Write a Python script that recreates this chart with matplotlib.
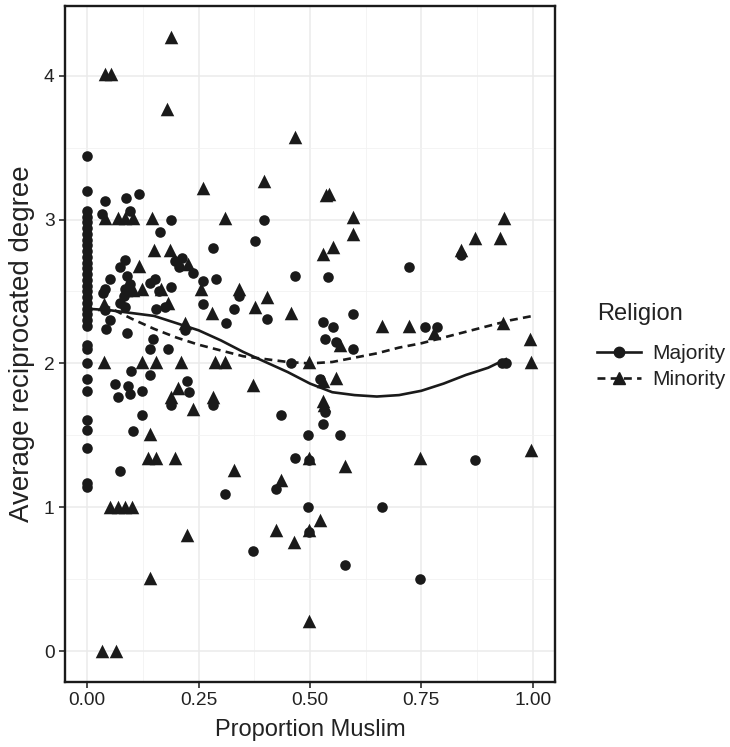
import matplotlib
matplotlib.use('Agg')
import matplotlib.pyplot as plt
from matplotlib.lines import Line2D
from matplotlib.ticker import MultipleLocator
import numpy as np

plt.rcParams['font.family'] = ['Liberation Sans', 'DejaVu Sans']

# 多数派（圆点）：比例为 0 的那一列
maj_zero_y = [3.44, 3.20, 3.06, 3.02, 2.98, 2.94, 2.90, 2.86, 2.82, 2.78, 2.74, 2.70,
              2.66, 2.62, 2.58, 2.54, 2.50, 2.46, 2.42, 2.38, 2.34, 2.30, 2.26,
              2.13, 2.10, 2.00, 1.89, 1.81, 1.61, 1.54, 1.41, 1.17, 1.14]

# 多数派（圆点）：其余
maj_x = [0.040, 0.088, 0.117, 0.032, 0.096, 0.187, 0.396, 0.163, 0.376, 0.282,
         0.085, 0.074, 0.212, 0.197, 0.206, 0.238, 0.050, 0.089, 0.040, 0.036,
         0.152, 0.140, 0.160, 0.187, 0.260, 0.289, 0.466, 0.540, 0.722, 0.839,
         0.096, 0.085, 0.082, 0.074, 0.085, 0.340, 0.259, 0.175, 0.154, 0.330,
         0.404, 0.311, 0.040, 0.050, 0.042, 0.089, 0.219, 0.147, 0.140, 0.182,
         0.529, 0.552, 0.596, 0.534, 0.559, 0.596, 0.759, 0.785, 0.457, 0.930,
         0.940, 0.098, 0.140, 0.063, 0.068, 0.092, 0.096, 0.122, 0.223, 0.229,
         0.187, 0.282, 0.436, 0.122, 0.103, 0.522, 0.534, 0.529, 0.496, 0.567,
         0.467, 0.497, 0.871, 0.073, 0.424, 0.309, 0.496, 0.662, 0.497, 0.372,
         0.579, 0.746]
maj_y = [3.13, 3.15, 3.18, 3.04, 3.06, 3.00, 3.00, 2.91, 2.85, 2.80,
         2.72, 2.67, 2.73, 2.71, 2.67, 2.63, 2.59, 2.61, 2.52, 2.49,
         2.59, 2.56, 2.50, 2.53, 2.57, 2.59, 2.61, 2.60, 2.67, 2.75,
         2.55, 2.52, 2.47, 2.42, 2.39, 2.47, 2.41, 2.39, 2.38, 2.38,
         2.31, 2.28, 2.37, 2.30, 2.24, 2.21, 2.23, 2.17, 2.10, 2.10,
         2.29, 2.25, 2.34, 2.17, 2.15, 2.10, 2.25, 2.25, 2.00, 2.00,
         2.00, 1.95, 1.92, 1.86, 1.77, 1.84, 1.79, 1.81, 1.88, 1.80,
         1.71, 1.71, 1.64, 1.64, 1.53, 1.89, 1.66, 1.58, 1.50, 1.50,
         1.34, 1.33, 1.33, 1.25, 1.13, 1.09, 1.00, 1.00, 0.83, 0.70,
         0.60, 0.50]

# 少数派（三角）
min_x = [0.187, 0.040, 0.053, 0.178, 0.467, 0.259, 0.396, 0.537, 0.542, 0.596,
         0.596, 0.552, 0.529, 0.040, 0.070, 0.084, 0.103, 0.146, 0.309, 0.936,
         0.150, 0.186, 0.839, 0.871, 0.927, 0.117, 0.226, 0.092, 0.088, 0.103,
         0.122, 0.166, 0.256, 0.340, 0.404, 0.182, 0.281, 0.376, 0.458, 0.219,
         0.037, 0.662, 0.722, 0.779, 0.933, 0.994, 0.567, 0.037, 0.122, 0.155,
         0.211, 0.286, 0.309, 0.497, 0.995, 0.529, 0.559, 0.372, 0.204, 0.187,
         0.282, 0.238, 0.529, 0.531, 0.140, 0.137, 0.155, 0.196, 0.497, 0.746,
         0.995, 0.579, 0.330, 0.436, 0.050, 0.070, 0.085, 0.100, 0.522, 0.497,
         0.424, 0.224, 0.464, 0.140, 0.497, 0.032, 0.065]
min_y = [4.27, 4.01, 4.01, 3.77, 3.57, 3.22, 3.27, 3.17, 3.18, 3.02,
         2.90, 2.81, 2.76, 3.01, 3.01, 3.01, 3.01, 3.01, 3.01, 3.01,
         2.79, 2.79, 2.79, 2.87, 2.87, 2.68, 2.69, 2.55, 2.51, 2.51,
         2.52, 2.52, 2.52, 2.52, 2.46, 2.42, 2.35, 2.39, 2.35, 2.28,
         2.41, 2.26, 2.26, 2.21, 2.28, 2.17, 2.13, 2.01, 2.01, 2.01,
         2.01, 2.01, 2.01, 2.01, 2.01, 1.88, 1.90, 1.85, 1.83, 1.77,
         1.77, 1.68, 1.74, 1.71, 1.51, 1.34, 1.34, 1.34, 1.34, 1.34,
         1.40, 1.29, 1.26, 1.19, 1.00, 1.00, 1.00, 1.00, 0.91, 0.84,
         0.84, 0.81, 0.76, 0.51, 0.21, 0.00, 0.00]

# 平滑曲线
maj_fit_x = [0.00, 0.05, 0.10, 0.15, 0.20, 0.25, 0.30, 0.35, 0.40, 0.45,
             0.50, 0.55, 0.60, 0.65, 0.70, 0.75, 0.80, 0.85, 0.90, 0.94]
maj_fit_y = [2.38, 2.37, 2.35, 2.33, 2.28, 2.23, 2.16, 2.08, 2.01, 1.94,
             1.86, 1.80, 1.78, 1.77, 1.78, 1.81, 1.86, 1.92, 1.97, 2.03]
min_fit_x = [0.035, 0.10, 0.15, 0.20, 0.25, 0.30, 0.35, 0.40, 0.45, 0.50,
             0.55, 0.60, 0.65, 0.70, 0.75, 0.80, 0.85, 0.90, 0.95, 1.00]
min_fit_y = [2.41, 2.31, 2.24, 2.18, 2.13, 2.09, 2.05, 2.03, 2.01, 2.00,
             2.01, 2.04, 2.07, 2.11, 2.14, 2.18, 2.22, 2.26, 2.30, 2.33]

ink = '#1a1a1a'
text_col = '#222222'

fig = plt.figure(figsize=(7.3, 7.47), dpi=100)
ax = fig.add_axes([65 / 730, 65 / 747, 490 / 730, 676 / 747])

all_maj_x = [0.0] * len(maj_zero_y) + maj_x
all_maj_y = maj_zero_y + maj_y
ax.scatter(all_maj_x, all_maj_y, s=58, marker='o', color=ink, linewidths=0, zorder=3)
ax.scatter(min_x, min_y, s=95, marker='^', color=ink, linewidths=0, zorder=3)

ax.plot(maj_fit_x, maj_fit_y, color=ink, lw=1.9, ls='-', zorder=4)
ax.plot(min_fit_x, min_fit_y, color=ink, lw=1.9, ls=(0, (3, 2)), zorder=4)

ax.set_xlim(-0.05, 1.05)
ax.set_ylim(-0.2135, 4.4835)
ax.set_xticks([0, 0.25, 0.5, 0.75, 1.0])
ax.set_xticklabels(['0.00', '0.25', '0.50', '0.75', '1.00'])
ax.set_yticks([0, 1, 2, 3, 4])
ax.xaxis.set_minor_locator(MultipleLocator(0.125))
ax.yaxis.set_minor_locator(MultipleLocator(0.5))
ax.grid(True, which='major', color='#ebebeb', lw=1.1, zorder=0)
ax.grid(True, which='minor', color='#f2f2f2', lw=0.6, zorder=0)
ax.set_axisbelow(True)

for sp in ax.spines.values():
    sp.set_color(ink)
    sp.set_linewidth(1.7)
ax.tick_params(which='major', length=4.5, width=1.1, color=ink, labelsize=13.8,
               labelcolor=text_col, pad=3)
ax.tick_params(which='minor', length=0)

ax.set_xlabel('Proportion Muslim', fontsize=17, color=text_col, labelpad=7)
ax.set_ylabel('Average reciprocated degree', fontsize=20, color=text_col, labelpad=6)

handles = [
    Line2D([], [], color=ink, lw=1.9, ls='-', marker='o', markersize=7.5),
    Line2D([], [], color=ink, lw=1.9, ls=(0, (3, 2)), marker='^', markersize=9),
]
leg = ax.legend(handles, ['Majority', 'Minority'], title='Religion',
                loc='center left', bbox_to_anchor=(1.069, 0.497), frameon=False,
                fontsize=15, title_fontsize=17, handlelength=2.1,
                handletextpad=0.55, labelspacing=0.33, borderaxespad=0)
leg._legend_box.align = 'left'
leg._legend_box.sep = 13.5  # 标题与条目之间的间距
for t in leg.get_texts():
    t.set_color(text_col)
leg.get_title().set_color(text_col)

fig.savefig('out.png', dpi=100)
